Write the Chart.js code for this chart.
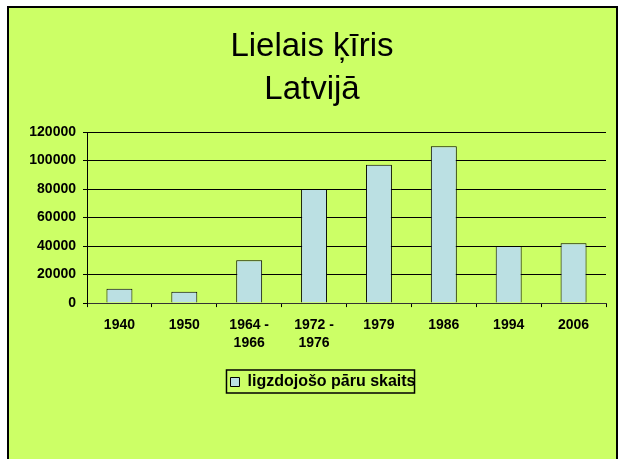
<!DOCTYPE html>
<html>
<head>
<meta charset="utf-8">
<script src="https://cdn.jsdelivr.net/npm/chart.js@4"></script>
<style>
  html, body { margin: 0; padding: 0; background: #fff; }
  #frame {
    position: absolute; left: 7px; top: 6px;
    width: 607px; height: 480px;
    border: 2px solid #000; background: #CCFF66;
  }
  #wrap { position: absolute; left: 0; top: 0; width: 623px; height: 459px; }
</style>
</head>
<body>
<div id="frame"></div>
<div id="wrap"><canvas id="chart" width="623" height="459"></canvas></div>
<script>
// dati
const titleLines = ['Lielais ķīris', 'Latvijā'];
const years = [['1940'], ['1950'], ['1964 -', '1966'], ['1972 -', '1976'], ['1979'], ['1986'], ['1994'], ['2006']];
const pairs = [10000, 8000, 30000, 80000, 97000, 110000, 40000, 42000];
const seriesName = 'ligzdojošo pāru skaits';
const yTicks = [0, 20000, 40000, 60000, 80000, 100000, 120000];

const fontFamily = '"Liberation Sans", Arial, sans-serif';
Chart.defaults.color = '#000';
Chart.defaults.font.family = fontFamily;

// leģendas rāmis + nobīde
const legendBox = {
  id: 'legendBox',
  afterLayout(chart) {
    chart.legend.left += 11;
    chart.legend.right += 11;
  },
  afterDraw(chart) {
    const hb = chart.legend.legendHitBoxes[0];
    if (!hb) return;
    const ctx = chart.ctx;
    const cy = hb.top + hb.height / 2;
    ctx.save();
    ctx.strokeStyle = '#000';
    ctx.lineWidth = 1.5;
    ctx.strokeRect(hb.left - 4, cy - 12, hb.width + 3, 23);
    ctx.restore();
  }
};

new Chart(document.getElementById('chart'), {
  type: 'bar',
  data: {
    labels: years,
    datasets: [{
      label: seriesName,
      data: pairs,
      backgroundColor: '#BBE0E3',
      borderColor: '#000',
      borderWidth: 1,
      categoryPercentage: 1,
      barPercentage: 0.4
    }]
  },
  options: {
    responsive: false,
    animation: false,
    layout: { padding: { left: 18, right: 17, top: 0, bottom: 59 } },
    scales: {
      x: {
        grid: { display: true, drawOnChartArea: false, drawTicks: true, tickLength: 4, color: '#000' },
        border: { color: '#333', width: 1 },
        ticks: {
          font: { size: 14, weight: 'bold', lineHeight: 1.3 },
          padding: 9, maxRotation: 0, autoSkip: false
        }
      },
      y: {
        min: 0, max: 120000,
        afterFit(scale) { scale.width = 69; },
        afterBuildTicks(scale) { scale.ticks = yTicks.map(v => ({ value: v })); },
        grid: { color: '#000', lineWidth: 1, tickLength: 4 },
        border: { color: '#000', width: 1 },
        ticks: {
          font: { size: 14, weight: 'bold' },
          padding: 7,
          callback: v => String(v)
        }
      }
    },
    plugins: {
      title: {
        display: true,
        text: titleLines,
        font: { size: 33, weight: 'normal', lineHeight: 1.3 },
        padding: { top: 25.5, bottom: 20.7 }
      },
      legend: {
        position: 'bottom',
        labels: {
          boxWidth: 9, boxHeight: 9,
          font: { size: 16, weight: 'bold' },
          padding: 12.5
        }
      },
      tooltip: { enabled: false }
    }
  },
  plugins: [legendBox]
});
</script>
</body>
</html>
